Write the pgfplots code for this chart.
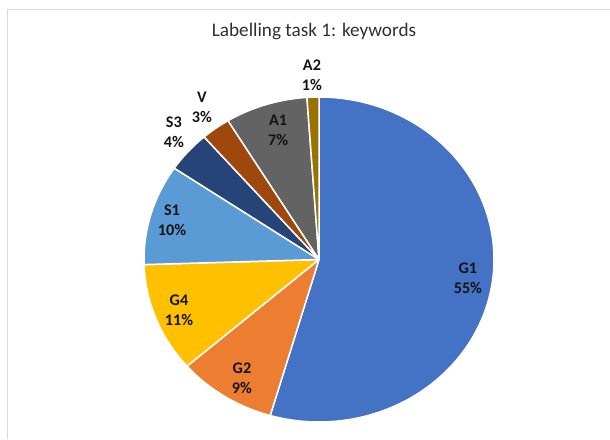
\documentclass[border=0pt]{standalone}
\usepackage{pgfplots}
\usepackage{pgfplotstable}
\pgfplotsset{compat=1.18}
\usepackage{fontspec}
\setmainfont{Carlito}
\definecolor{cG1}{HTML}{4472C4}
\definecolor{cG2}{HTML}{ED7D31}
\definecolor{cG4}{HTML}{FFC000}
\definecolor{cS1}{HTML}{5B9BD5}
\definecolor{cS3}{HTML}{264478}
\definecolor{cV}{HTML}{9E480E}
\definecolor{cA1}{HTML}{636363}
\definecolor{cA2}{HTML}{997300}
\definecolor{titlegray}{HTML}{303030}
\definecolor{labelgray}{HTML}{141414}
\definecolor{framegray}{HTML}{D9D9D9}

% share of each slice (percent), clockwise from 12 o'clock
\pgfplotstableread{
label pct col
G1 54.5 cG1
G2 9.1 cG2
G4 10.9 cG4
S1 10.0 cS1
S3 4.1 cS3
V 2.7 cV
A1 7.6 cA1
A2 1.1 cA2
}\piedata

\begin{document}
\begin{tikzpicture}[x=1pt,y=1pt]
\path[use as bounding box] (0,0) rectangle (610,439);
\draw[framegray, line width=0.8pt] (7,0) -- (7,430) -- (610,430);
\node[font=\fontsize{19.2}{23}\selectfont, text=titlegray] at (314,408) {Labelling task 1: keywords};
\begin{axis}[
  at={(144pt,17pt)}, anchor=south west,
  scale only axis, width=350pt, height=325pt,
  xmin=-1, xmax=1, ymin=-1, ymax=1,
  hide axis, clip=false,
]
\def\cum{0}
\pgfplotsforeachungrouped \i in {0,...,7}{%
  \pgfplotstablegetelem{\i}{pct}\of\piedata \let\p=\pgfplotsretval
  \pgfplotstablegetelem{\i}{col}\of\piedata \let\c=\pgfplotsretval
  \pgfmathsetmacro{\a}{90-3.6*(\cum+\p)}%
  \pgfmathsetmacro{\b}{90-3.6*\cum}%
  \edef\temp{\noexpand\addplot[fill=\c, draw=white, line width=1.5pt, line join=round, domain=\a:\b, samples=120, data cs=polar] ({x},{1}) -- (axis cs:0,0) -- cycle;}%
  \temp
  \pgfmathsetmacro{\cum}{\cum+\p}%
}
\tikzset{lab/.style={font=\bfseries\fontsize{16.2}{20}\selectfont, text=labelgray, align=center}}
\node[lab] at (axis cs:0.851,-0.117) {G1\\55\%};
\node[lab] at (axis cs:-0.44,-0.732) {G2\\9\%};
\node[lab] at (axis cs:-0.80,-0.311) {G4\\11\%};
\node[lab] at (axis cs:-0.84,0.243) {S1\\10\%};
\node[lab] at (axis cs:-0.829,0.785) {S3\\4\%};
\node[lab] at (axis cs:-0.669,0.935) {V\\3\%};
\node[lab] at (axis cs:-0.234,0.797) {A1\\7\%};
\node[lab] at (axis cs:-0.04,1.135) {A2\\1\%};
\end{axis}
\end{tikzpicture}
\end{document}
